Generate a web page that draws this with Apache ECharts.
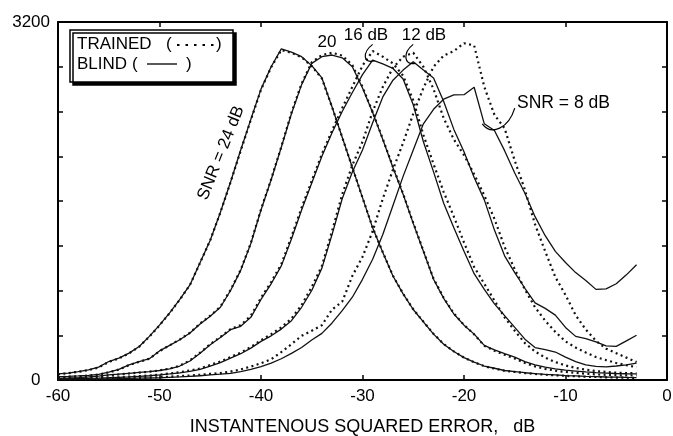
<!DOCTYPE html>
<html>
<head>
<meta charset="utf-8">
<script src="https://cdn.jsdelivr.net/npm/echarts@6/dist/echarts.min.js"></script>
<style>
  html, body { margin: 0; background: #fff; }
  #chart { width: 673px; height: 436px; }
</style>
</head>
<body>
<div id="chart"></div>
<script>
// x grid of the histogram, dB
const errDb = [-60, -59, -58, -57, -56, -55, -54, -53, -52, -51, -50, -49, -48, -47, -46, -45, -44, -43, -42, -41,
  -40, -39, -38, -37, -36, -35, -34, -33, -32, -31, -30, -29, -28, -27, -26, -25, -24, -23, -22, -21,
  -20, -19, -18, -17, -16, -15, -14, -13, -12, -11, -10, -9, -8, -7, -6, -5, -4, -3]

// SNR = 24 dB
const blind24 = [55, 62, 75, 90, 115, 165, 195, 240, 300, 390, 490, 600, 720, 850, 1050, 1250, 1500, 1770, 2056, 2330,
  2600, 2800, 2960, 2930, 2890, 2810, 2700, 2440, 2170, 1900, 1630, 1360, 1140, 930, 770, 630, 520, 410, 320, 255,
  200, 160, 125, 105, 85, 75, 65, 57, 50, 45, 40, 36, 32, 30, 27, 25, 23, 22]
const trained24 = [52, 60, 73, 88, 112, 162, 193, 238, 298, 388, 488, 598, 718, 850, 1048, 1250, 1498, 1768, 2050, 2325,
  2595, 2795, 2950, 2925, 2885, 2805, 2695, 2440, 2170, 1900, 1630, 1362, 1142, 932, 772, 632, 522, 412, 322, 256,
  200, 158, 123, 102, 82, 72, 62, 54, 47, 42, 37, 33, 29, 27, 24, 22, 20, 19]

// SNR = 20 dB
const blind20 = [30, 32, 36, 42, 50, 70, 95, 135, 165, 190, 260, 310, 360, 420, 500, 570, 650, 800, 980, 1220,
  1520, 1790, 2080, 2380, 2640, 2830, 2890, 2905, 2880, 2800, 2610, 2390, 2150, 1900, 1660, 1400, 1150, 900, 730, 590,
  490, 410, 310, 270, 235, 205, 165, 135, 115, 100, 88, 80, 72, 66, 62, 58, 56, 55]
const trained20 = [27, 30, 34, 40, 48, 68, 93, 133, 163, 190, 258, 310, 362, 422, 505, 575, 655, 805, 985, 1225,
  1525, 1795, 2085, 2390, 2650, 2840, 2905, 2925, 2900, 2815, 2620, 2395, 2155, 1905, 1665, 1405, 1155, 905, 735, 595,
  492, 408, 305, 262, 225, 192, 152, 122, 100, 84, 72, 63, 56, 50, 46, 43, 41, 40]

// SNR = 16 dB
const blind16 = [15, 18, 22, 28, 35, 45, 52, 60, 68, 74, 85, 100, 125, 170, 240, 315, 380, 450, 480, 560,
  720, 860, 1020, 1260, 1520, 1760, 2000, 2210, 2400, 2570, 2730, 2860, 2825, 2785, 2690, 2460, 2130, 1860, 1580, 1360,
  1150, 950, 810, 680, 575, 470, 365, 290, 272, 250, 205, 165, 135, 122, 118, 125, 135, 150]
const trained16 = [12, 15, 20, 26, 33, 42, 50, 58, 66, 74, 86, 102, 128, 175, 245, 320, 385, 455, 490, 575,
  735, 875, 1035, 1280, 1540, 1780, 2020, 2230, 2430, 2620, 2810, 2940, 2890, 2830, 2720, 2500, 2190, 1930, 1680, 1460,
  1230, 1010, 860, 710, 560, 440, 330, 255, 200, 160, 130, 108, 92, 80, 72, 66, 62, 60]

// SNR = 12 dB
const blind12 = [10, 11, 13, 15, 17, 20, 24, 28, 33, 38, 45, 54, 64, 78, 95, 125, 155, 195, 235, 285,
  345, 395, 455, 530, 650, 800, 1000, 1300, 1620, 1860, 2056, 2300, 2530, 2680, 2770, 2845, 2770, 2700, 2490, 2240,
  2040, 1810, 1610, 1340, 1110, 960, 820, 690, 640, 580, 470, 390, 370, 340, 305, 300, 350, 400]
const trained12 = [10, 11, 13, 15, 18, 21, 25, 30, 35, 40, 48, 58, 70, 85, 102, 135, 165, 205, 245, 295,
  355, 410, 470, 550, 670, 830, 1020, 1330, 1660, 1920, 2130, 2400, 2620, 2790, 2890, 2925, 2800, 2600, 2340, 2150,
  2010, 1840, 1650, 1440, 1190, 990, 810, 650, 530, 430, 345, 290, 245, 205, 178, 152, 132, 115]

// SNR = 8 dB
const blind8 = [5, 5, 6, 7, 8, 10, 12, 14, 16, 18, 20, 24, 28, 33, 38, 45, 52, 60, 75, 95,
  119, 150, 190, 238, 290, 358, 417, 510, 620, 740, 900, 1080, 1300, 1560, 1820, 2056, 2290, 2420, 2510, 2548,
  2550, 2617, 2290, 2230, 2050, 1850, 1670, 1460, 1290, 1150, 1050, 960, 890, 810, 815, 860, 940, 1030]
const trained8 = [5, 6, 7, 8, 9, 11, 13, 15, 18, 21, 25, 30, 35, 40, 47, 55, 62, 75, 95, 120,
  150, 185, 250, 320, 395, 440, 490, 630, 700, 930, 1100, 1330, 1620, 1880, 2120, 2380, 2610, 2800, 2900, 2940,
  3010, 2990, 2620, 2370, 2250, 1960, 1700, 1390, 1150, 920, 760, 580, 450, 350, 280, 240, 200, 160]

const xTicks = [-60, -50, -40, -30, -20, -10, 0]
const yLabels = [0, 3200]

const FONT = 'Liberation Sans, Arial, sans-serif'
const chart = echarts.init(document.getElementById('chart'))

const pts = ys => errDb.map((x, i) => [x, ys[i]])
const solid = (name, ys) => ({
  name, type: 'line', data: pts(ys), showSymbol: false, silent: true, z: 2,
  lineStyle: { color: '#111', width: 1.3 }
})
const dotted = (name, ys) => ({
  name, type: 'line', data: pts(ys), showSymbol: false, silent: true, z: 3,
  lineStyle: { color: '#111', width: 2.2, type: [2, 3.4] }
})

const frameAxis = {
  axisLine: { show: true, onZero: false, lineStyle: { color: '#000', width: 2 } },
  axisTick: { show: true, inside: true, length: 5, lineStyle: { color: '#000', width: 1.5 } },
  splitLine: { show: false }
}

const option = {
  animation: false,
  backgroundColor: '#fff',
  grid: { left: 58, right: 6, top: 22, bottom: 56, containLabel: false, outerBoundsMode: 'none' },
  xAxis: [
    Object.assign({
      type: 'value', min: xTicks[0], max: xTicks[xTicks.length - 1], interval: 10, position: 'bottom',
      axisLabel: { color: '#000', fontSize: 17, fontFamily: FONT, margin: 8 },
      name: 'INSTANTENOUS SQUARED ERROR,   dB', nameLocation: 'middle', nameGap: 38,
      nameTextStyle: { color: '#000', fontSize: 18, fontFamily: FONT }
    }, frameAxis),
    Object.assign({
      type: 'value', min: xTicks[0], max: xTicks[xTicks.length - 1], interval: 10, position: 'top',
      axisLabel: { show: false }
    }, frameAxis)
  ],
  yAxis: [
    Object.assign({
      type: 'value', min: 0, max: 3200, interval: 400, position: 'left',
      axisLabel: {
        color: '#000', fontSize: 17, fontFamily: FONT, margin: 8,
        formatter: v => (v === 0 ? '0  ' : yLabels.includes(v) ? String(v) : '')
      },
      name: 'HISTOGRAM', nameLocation: 'middle', nameGap: 28,
      nameTextStyle: { color: '#000', fontSize: 17.5, fontFamily: FONT }
    }, frameAxis),
    Object.assign({
      type: 'value', min: 0, max: 3200, interval: 400, position: 'right',
      axisLabel: { show: false }
    }, frameAxis)
  ],
  series: [
    solid('blind24', blind24), dotted('trained24', trained24),
    solid('blind20', blind20), dotted('trained20', trained20),
    solid('blind16', blind16), dotted('trained16', trained16),
    solid('blind12', blind12), dotted('trained12', trained12),
    solid('blind8', blind8), dotted('trained8', trained8)
  ]
}
chart.setOption(option)

// annotations
const txt = (x, y, text, extra, props) => Object.assign({
  type: 'text', x, y, z: 10,
  style: Object.assign({ text, fill: '#000', font: '17px ' + FONT, verticalAlign: 'middle' }, extra || {})
}, props || {})
const px = (x, y) => chart.convertToPixel({ gridIndex: 0 }, [x, y])
const curl = (a, b, c, d) => {
  const p1 = px(a[0], a[1]), c1 = px(b[0], b[1]), c2 = px(c[0], c[1]), p2 = px(d[0], d[1])
  return {
    type: 'bezierCurve', z: 10, silent: true,
    shape: { x1: p1[0], y1: p1[1], cpx1: c1[0], cpy1: c1[1], cpx2: c2[0], cpy2: c2[1], x2: p2[0], y2: p2[1] },
    style: { stroke: '#000', lineWidth: 1.2, fill: null }
  }
}

chart.setOption({
  graphic: [
    {
      type: 'rect', z: 9, shape: { x: 70, y: 30, width: 163, height: 52 },
      style: { fill: '#fff', stroke: '#000', lineWidth: 1.5, shadowColor: '#000', shadowOffsetX: 3, shadowOffsetY: 3, shadowBlur: 0 }
    },
    txt(77, 44, 'TRAINED'), txt(166, 44, '('), txt(216, 44, ')'),
    { type: 'line', z: 10, shape: { x1: 177, y1: 45, x2: 214, y2: 45 }, style: { stroke: '#000', lineWidth: 2, lineDash: [2.5, 6] } },
    txt(77, 64, 'BLIND'), txt(132, 64, '('), txt(186, 64, ')'),
    { type: 'line', z: 10, shape: { x1: 147, y1: 64, x2: 177, y2: 64 }, style: { stroke: '#000', lineWidth: 1.3 } },
    txt(221, 153, 'SNR = 24 dB', { align: 'center' }, { rotation: 68 * Math.PI / 180 }),
    txt(327, 42, '20', { align: 'center' }),
    txt(366, 35, '16 dB', { align: 'center' }),
    txt(424, 35, '12 dB', { align: 'center' }),
    txt(517, 103, 'SNR = 8 dB', { font: '17.5px ' + FONT }),
    curl([-29.0, 3000], [-30.0, 2930], [-30.0, 2820], [-28.8, 2855]),
    curl([-25.0, 3000], [-26.0, 2930], [-26.0, 2810], [-24.8, 2830]),
    curl([-18.2, 2290], [-17.3, 2180], [-15.6, 2250], [-15.0, 2430])
  ]
})
</script>
</body>
</html>
